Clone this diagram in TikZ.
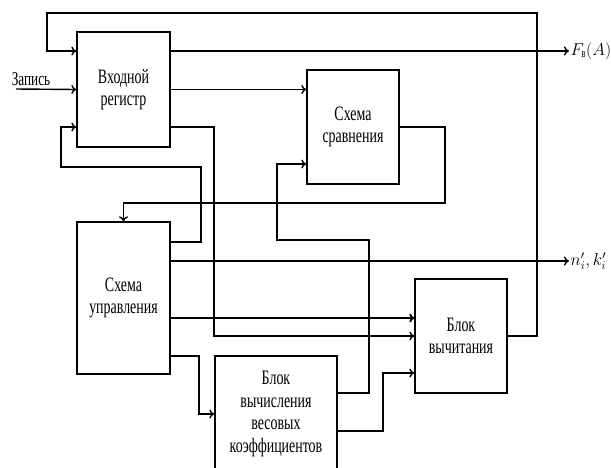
\documentclass[tikz,border=0pt]{standalone}
\usepackage{amsmath}
\usepackage{fontspec}
\setmainfont[FakeStretch=0.68]{Liberation Serif}
\usepackage{tikz}
\usetikzlibrary{arrows,arrows.meta,positioning}

\begin{document}
\begin{tikzpicture}[x=1pt,y=-1pt,line width=1.4pt,>={To[length=5pt,width=9pt]},
                        blk/.style={draw, rectangle, fill=none, align=center, text=black, inner sep=0pt, font=\fontsize{20.5}{22.5}\selectfont},
                        lbl/.style={anchor=west, inner sep=1pt, font=\fontsize{18}{20}\selectfont}]
                        \useasboundingbox (0,0) rectangle (611,467);
                        \node[blk, minimum width=93, minimum height=115] (reg) at (123.5,89.5) {Входной\\регистр};
                        \node[blk, minimum width=92, minimum height=114] (cmp) at (353,127) {Схема\\сравнения};
                        \node[blk, minimum width=93, minimum height=152] (ctl) at (123.5,298) {Схема\\управления};
                        \node[blk, minimum width=122, minimum height=116] (calc) at (276,414) {Блок\\вычисления\\весовых\\коэффициентов};
                        \node[blk, minimum width=92, minimum height=114] (sub) at (461,336) {Блок\\вычитания};
                        \node[font=\fontsize{19.5}{20}\selectfont, inner sep=0pt] (zap) at (31,79) {Запись};
                        \node[lbl] (fout) at (569,51) {$F_{\text{в}}(A)$};
                        \node[lbl] (nout) at (569,261) {$n_i',k_i'$};
                        \coordinate (zin) at (16,89);
                        \draw [->] (zin) -- (reg.west);
                        \draw [->] (reg.east|-fout) -- (fout.west);
                        \draw [->] (reg.east) -- (reg.east-|cmp.west);
                        \draw [->] (reg.east|-0,127) -- (214,127) |- (sub.west);
                        \draw [->] (ctl.east|-0,242) -| (201,167) -| (61,127) -- (reg.west|-0,127);
                        \draw [->] (ctl.east|-nout) -- (nout.west);
                        \draw [->, line width=1.9pt] (ctl.east|-0,318) -- (sub.west|-0,318);
                        \draw [->] (ctl.east|-0,356) -| (199,414) -- (calc.west);
                        \draw [->] (calc.east|-0,393) -| (369,240) -| (277,164) -- (cmp.west|-0,164);
                        \draw [->] (calc.east|-0,431) -| (383,373) -- (sub.west|-0,373);
                        \draw [->] (cmp.east) -| (445,203) -| (ctl.north);
                        \draw [->] (sub.east) -| (537,13) -| (47,51) -- (reg.west|-0,51);
                        \end{tikzpicture}
\end{document}
